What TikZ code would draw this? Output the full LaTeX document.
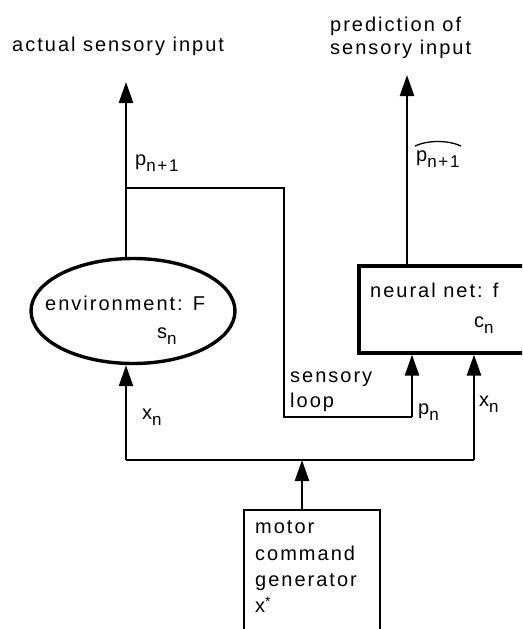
\documentclass[tikz,border=0pt]{standalone}
\usepackage{fontspec}
\setmainfont{Liberation Sans}[LetterSpace=10]
\usetikzlibrary{arrows.meta,shapes.geometric}
\newcommand\lsub[1]{\raisebox{-0.34em}{\fontsize{17}{17}\selectfont #1}}
\begin{document}
\begin{tikzpicture}[x=1pt,y=-1pt,
  txt/.style={inner sep=0pt, anchor=base west, font=\fontsize{20}{26}\selectfont},
  conn/.style={line width=2.4pt},
  thin/.style={line width=1.8pt},
  arr/.style={line width=2.4pt, -{Triangle[length=21pt,width=14pt]}},
  envshape/.style={draw, ellipse, line width=3.4pt, minimum width=204pt, minimum height=105pt, inner sep=0pt},
  netbox/.style={draw, rectangle, line width=3.6pt, anchor=north west, minimum width=190pt, minimum height=87pt, inner sep=0pt},
  motbox/.style={draw, rectangle, line width=2.2pt, anchor=north west, minimum width=136pt, minimum height=150pt, inner sep=0pt}
]
\useasboundingbox (0,0) rectangle (522,629);
\clip (0,0) rectangle (522,629);

% top labels
\node[txt] (actual) at (12,51) {actual sensory input};
\node[txt] (pred1) at (330,31) {prediction of};
\node[txt] (pred2) at (330,54) {sensory input};

% main blocks
\node[envshape] (env) at (133,311) {};
\node[txt] (envtxt) at (45,310) {environment: F};
\node[txt] (envs) at (157,338) {s\lsub{n}};

\node[netbox] (nn) at (357,264) {};
\node[txt] (nntxt) at (370,297) {neural net: f};
\node[txt] (nnc) at (474,327) {c\lsub{n}};

\node[motbox] (mot) at (243,509) {};
\node[txt] (m1) at (255,533) {motor};
\node[txt] (m2) at (255,560) {command};
\node[txt] (m3) at (255,586) {generator};
\node[txt] (m4) at (255,612) {x\raisebox{0.3em}{\fontsize{14}{14}\selectfont *}};

% coordinates
\coordinate (topL) at (126,82);
\coordinate (jL) at (126,188);
\coordinate (lpR) at (284,188);
\coordinate (lpB) at (284,417);
\coordinate (pnB) at (412,417);
\coordinate (topR) at (407,75);
\coordinate (bl) at (126,460);
\coordinate (br) at (474,460);
\coordinate (bm) at (302,460);

% connectors
\draw[arr] (jL |- env.north) -- (topL);
\draw[thin] (jL) -- (lpR) -- (lpB) -- (pnB);
\draw[arr] (pnB) -- (pnB |- nn.south);
\draw[arr] (topR |- nn.north) -- (topR);
\draw[conn] (bl) -- (br);
\draw[arr] (bl) -- (bl |- env.south);
\draw[arr] (br) -- (br |- nn.south);
\draw[arr] (bm |- mot.north) -- (bm);

% connector labels
\node[txt] (pn1) at (135,165) {p\lsub{n+1}};
\node[txt] (phat) at (416,161) {p\lsub{n+1}};
\draw[line width=1.3pt] (415,146) .. controls (428,140) and (448,140) .. (461,146);
\node[txt] (sens1) at (290,382) {sensory};
\node[txt] (sens2) at (290,407) {loop};
\node[txt] (pn) at (418,414) {p\lsub{n}};
\node[txt] (xnR) at (479,406) {x\lsub{n}};
\node[txt] (xnL) at (142,419) {x\lsub{n}};
\end{tikzpicture}
\end{document}
